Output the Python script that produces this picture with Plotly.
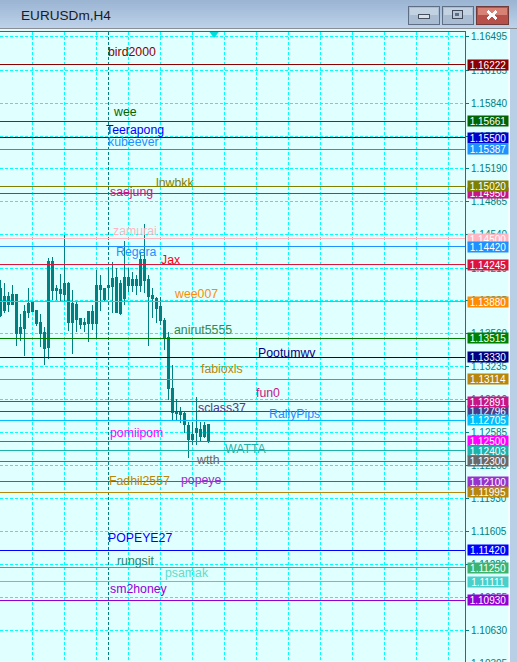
import plotly.graph_objects as go

# candles (direction can't be told, all bars are the same teal)
highs = [1.14092, 1.14060, 1.13977, 1.14040, 1.13954, 1.13756, 1.13845, 1.14010, 1.13885, 1.13796,
	1.13753, 1.13631, 1.14307, 1.14316, 1.14043, 1.14152, 1.14537, 1.14076, 1.13994, 1.13878,
	1.13714, 1.13714, 1.13789, 1.13845, 1.14191, 1.14142, 1.14004, 1.14191, 1.14267, 1.14208,
	1.14092, 1.14478, 1.14208, 1.14175, 1.14142, 1.14356, 1.14646, 1.14142, 1.14010, 1.13928,
	1.13928, 1.13714, 1.13575, 1.13253, 1.12916, 1.12841, 1.12791, 1.12692, 1.12692, 1.12940,
	1.12692, 1.12692, 1.12666]
body_tops = [1.14010, 1.13925, 1.13925, 1.13951, 1.13951, 1.13628, 1.13786, 1.13865, 1.13872, 1.13796,
	1.13668, 1.13575, 1.14280, 1.14280, 1.14004, 1.13994, 1.14060, 1.14060, 1.13862, 1.13855,
	1.13714, 1.13668, 1.13786, 1.13786, 1.14043, 1.14043, 1.14004, 1.14036, 1.14109, 1.14119,
	1.14060, 1.14116, 1.14116, 1.14102, 1.14102, 1.14300, 1.14300, 1.14102, 1.13944, 1.13905,
	1.13826, 1.13697, 1.13526, 1.13022, 1.12791, 1.12785, 1.12775, 1.12653, 1.12567, 1.12627,
	1.12620, 1.12650, 1.12660]
body_bottoms = [1.13740, 1.13796, 1.13852, 1.13852, 1.13562, 1.13562, 1.13615, 1.13773, 1.13786, 1.13658,
	1.13562, 1.13417, 1.13430, 1.13987, 1.13984, 1.13961, 1.13954, 1.13671, 1.13671, 1.13707,
	1.13654, 1.13648, 1.13658, 1.13658, 1.13658, 1.13994, 1.13895, 1.14023, 1.14033, 1.13773,
	1.13763, 1.13905, 1.14043, 1.14043, 1.14043, 1.14043, 1.14092, 1.13934, 1.13905, 1.13812,
	1.13691, 1.13516, 1.13022, 1.12785, 1.12775, 1.12768, 1.12660, 1.12521, 1.12521, 1.12587,
	1.12544, 1.12544, 1.12495]
lows = [1.13730, 1.13763, 1.13773, 1.13845, 1.13440, 1.13493, 1.13345, 1.13714, 1.13773, 1.13641,
	1.13430, 1.13253, 1.13312, 1.13892, 1.13892, 1.13878, 1.13878, 1.13588, 1.13361, 1.13582,
	1.13608, 1.13582, 1.13483, 1.13598, 1.13516, 1.13786, 1.13872, 1.13895, 1.13763, 1.13763,
	1.13747, 1.13845, 1.13977, 1.13977, 1.13944, 1.13977, 1.13961, 1.13444, 1.13714, 1.13664,
	1.13648, 1.13401, 1.12907, 1.12709, 1.12709, 1.12676, 1.12577, 1.12330, 1.12462, 1.12462,
	1.12495, 1.12528, 1.12478]

# horizontal levels, drawn in this order so the overlapping tags stack like the original
levels = [1.16222, 1.15661, 1.15500, 1.15387, 1.14950, 1.15020, 1.14500, 1.14420, 1.14245, 1.13880,
	1.13515, 1.13330, 1.13114, 1.12796, 1.12891, 1.12500, 1.12705, 1.12403, 1.12300, 1.12100,
	1.11995, 1.11420, 1.11250, 1.11111, 1.10930]
level_colors = ["#8B0000", "#006400", "#0000CD", "#1E90FF", "#C71585", "#808000", "#FFB6C1", "#1E90FF", "#DC143C", "#FF8C00",
	"#008000", "#000080", "#B8860B", "#483D8B", "#C71585", "#FF00FF", "#00BFFF", "#20B2AA", "#696969", "#9932CC",
	"#B8860B", "#0000FF", "#3CB371", "#48D1CC", "#9400D3"]

names = ["bird2000", "wee", "Teerapong", "kubeever", "lnwbkk", "saejung", "zamurai", "Regera", "Jax", "wee007",
	"anirut5555", "Pootumwv", "fabioxls", "fun0", "sclass37", "RallyPips", "pomiipom", "WATTA", "wtth",
	"Fadhil2557", "popeye", "POPEYE27", "rungsit", "psamak", "sm2honey"]
name_colors = ["#8B0000", "#006400", "#0000FF", "#1E90FF", "#808000", "#C71585", "#FFB6C1", "#1E90FF", "#FF0000", "#FF8C00",
	"#2E8B57", "#000080", "#B8860B", "#C71585", "#483D8B", "#1E90FF", "#FF00FF", "#20B2AA", "#696969",
	"#B8860B", "#9932CC", "#0000FF", "#2E7F70", "#5FDCCB", "#9400D3"]
name_left = [107, 111.5, 104.5, 106.5, 154.5, 108.5, 111.5, 114.5, 159.5, 172.5,
	172.5, 256.5, 199.5, 254.5, 196.5, 267.5, 108.5, 223.5, 194.5,
	107.5, 179.5, 106.5, 115.5, 163.5, 108.5]
name_mid = [52, 112, 130, 142, 183, 192, 231, 252, 260, 294,
	330, 353, 369, 393, 408, 414, 433, 449, 460,
	481, 480, 538, 561, 573, 589]

y_ticks = [1.16495, 1.16165, 1.15840, 1.15515, 1.15190, 1.14865, 1.14540, 1.14210, 1.13885, 1.13560,
	1.13235, 1.12910, 1.12585, 1.12260, 1.11930, 1.11605, 1.11280, 1.10955, 1.10630, 1.10305]
grid_bars = list(range(0, 116, 8))
separator_bars = [27, 64]
shift_bar = [53.4]

W = 517
H = 680
plot_w = 465
plot_top = 32
plot_h = H - plot_top
teal = "#008080"
bg = "#E0FFFF"

def px(x):
	return x / plot_w

def py(y):
	return (H - y) / plot_h

def price_at(y):
	return 1.16222 - (y - 64.5) * 0.00009882

def rect(x0, y0, x1, y1, color, line=None):
	fig.add_shape(type="rect", xref="paper", yref="paper", x0=px(x0), x1=px(x1), y0=py(y0), y1=py(y1),
		fillcolor=color, line=dict(color=line or color, width=1 if line else 0), layer="above")

def seg(x0, y0, x1, y1, color, width):
	fig.add_shape(type="line", xref="paper", yref="paper", x0=px(x0), x1=px(x1), y0=py(y0), y1=py(y1),
		line=dict(color=color, width=width), layer="above")

bars = list(range(len(highs)))
fig = go.Figure()
fig.add_trace(go.Candlestick(x=bars, open=body_bottoms, high=highs, low=lows, close=body_tops,
	increasing=dict(line=dict(color=teal, width=1), fillcolor=teal),
	decreasing=dict(line=dict(color=teal, width=1), fillcolor=teal),
	whiskerwidth=0, showlegend=False))
fig.add_trace(go.Scatter(x=shift_bar, y=[price_at(34)], mode="markers", cliponaxis=False, showlegend=False,
	marker=dict(symbol="triangle-down", size=8, color="#00DDDD", line=dict(width=0))))

for bar in separator_bars:
	fig.add_shape(type="line", xref="x", yref="paper", x0=bar, x1=bar, y0=0, y1=1, layer="below",
		line=dict(color=teal, width=1, dash="3px,2px"))

for price, color in zip(levels, level_colors):
	fig.add_shape(type="line", xref="paper", yref="y", x0=0, x1=1, y0=price, y1=price,
		line=dict(color=color, width=1), layer="above")

for name, color, left, mid in zip(names, name_colors, name_left, name_mid):
	fig.add_annotation(text=name, xref="paper", yref="paper", x=px(left), y=py(mid), xanchor="left", yanchor="middle",
		showarrow=False, font=dict(family="Liberation Sans", size=12.3, color=color), borderpad=0)

# price tags sitting on the scale
for price, color in zip(levels, level_colors):
	fig.add_annotation(text="%.5f" % price, xref="paper", yref="y", x=1, xshift=2, y=price, xanchor="left", yanchor="middle",
		showarrow=False, font=dict(family="Liberation Sans", size=10, color="white"),
		bgcolor=color, width=40, height=10, borderpad=0, align="center")

# window chrome
for i in range(14):
	t = i / 13
	c = "rgb(%d,%d,%d)" % (155 + 34 * t, 181 + 29 * t, 211 + 22 * t)
	rect(0, i * 2, W, i * 2 + 2, c)
rect(0, 28, W, 29, "#8A8F96")
rect(0, 29, W, 31, "#E4FBFB")
rect(508, 29, 510, H, "#F4FCFD")
rect(510, 29, W, H, "#B9CFE6")

rect(408.5, 6.5, 439, 24, "#A9BCD2", "#5E6E84")
rect(409.5, 7.5, 438, 15, "#C3D2E3")
rect(418, 14.5, 429, 18, "#D8E0E8", "#46505E")
rect(442.5, 6.5, 473, 24, "#A9BCD2", "#5E6E84")
rect(443.5, 7.5, 472, 15, "#C3D2E3")
rect(452, 10.5, 462, 18, "#B8C8DA", "#3E4858")
rect(455, 13, 459, 15.5, "#5E6E84")
rect(476.5, 6.5, 508, 24, "#B8504A", "#6E3A3A")
rect(477.5, 7.5, 507, 15, "#D88276")
seg(487.5, 11, 496.5, 19, "white", 3)
seg(496.5, 11, 487.5, 19, "white", 3)

fig.add_annotation(text="EURUSDm,H4", xref="paper", yref="paper", x=px(20), y=py(16), xanchor="left", yanchor="middle",
	showarrow=False, font=dict(family="Liberation Sans", size=13.6, color="#1C1C1C"), borderpad=0)

fig.update_xaxes(range=[-0.125, 116.125], side="top", tickmode="array", tickvals=grid_bars, showticklabels=False,
	ticks="", showgrid=True, gridcolor="#00FFFF", griddash="3px,2px", gridwidth=1, zeroline=False,
	showline=True, linecolor=teal, linewidth=1, rangeslider=dict(visible=False))
fig.update_yaxes(range=[price_at(H), price_at(plot_top)], side="right", tickmode="array", tickvals=y_ticks,
	ticktext=["%.5f" % t for t in y_ticks], tickfont=dict(family="Liberation Sans", size=10, color=teal),
	ticks="outside", ticklen=3, tickcolor=teal, showgrid=True, gridcolor="#00FFFF", griddash="3px,2px", gridwidth=1,
	zeroline=False, showline=True, linecolor=teal, linewidth=1)
fig.update_layout(width=W, height=H, margin=dict(l=0, r=W - plot_w, t=plot_top, b=0), autosize=False,
	plot_bgcolor=bg, paper_bgcolor=bg, showlegend=False)

# page margin off, and hard pixel edges for the levels and candles like the MT4 window
page_js = """
document.body.style.margin='0';
document.body.style.overflow='hidden';
var st=document.createElement('style');
st.textContent='.shapelayer path,.boxlayer path{shape-rendering:crispEdges !important}';
document.head.appendChild(st);
"""
fig.write_html("out.html", config=dict(displayModeBar=False), post_script=page_js)
